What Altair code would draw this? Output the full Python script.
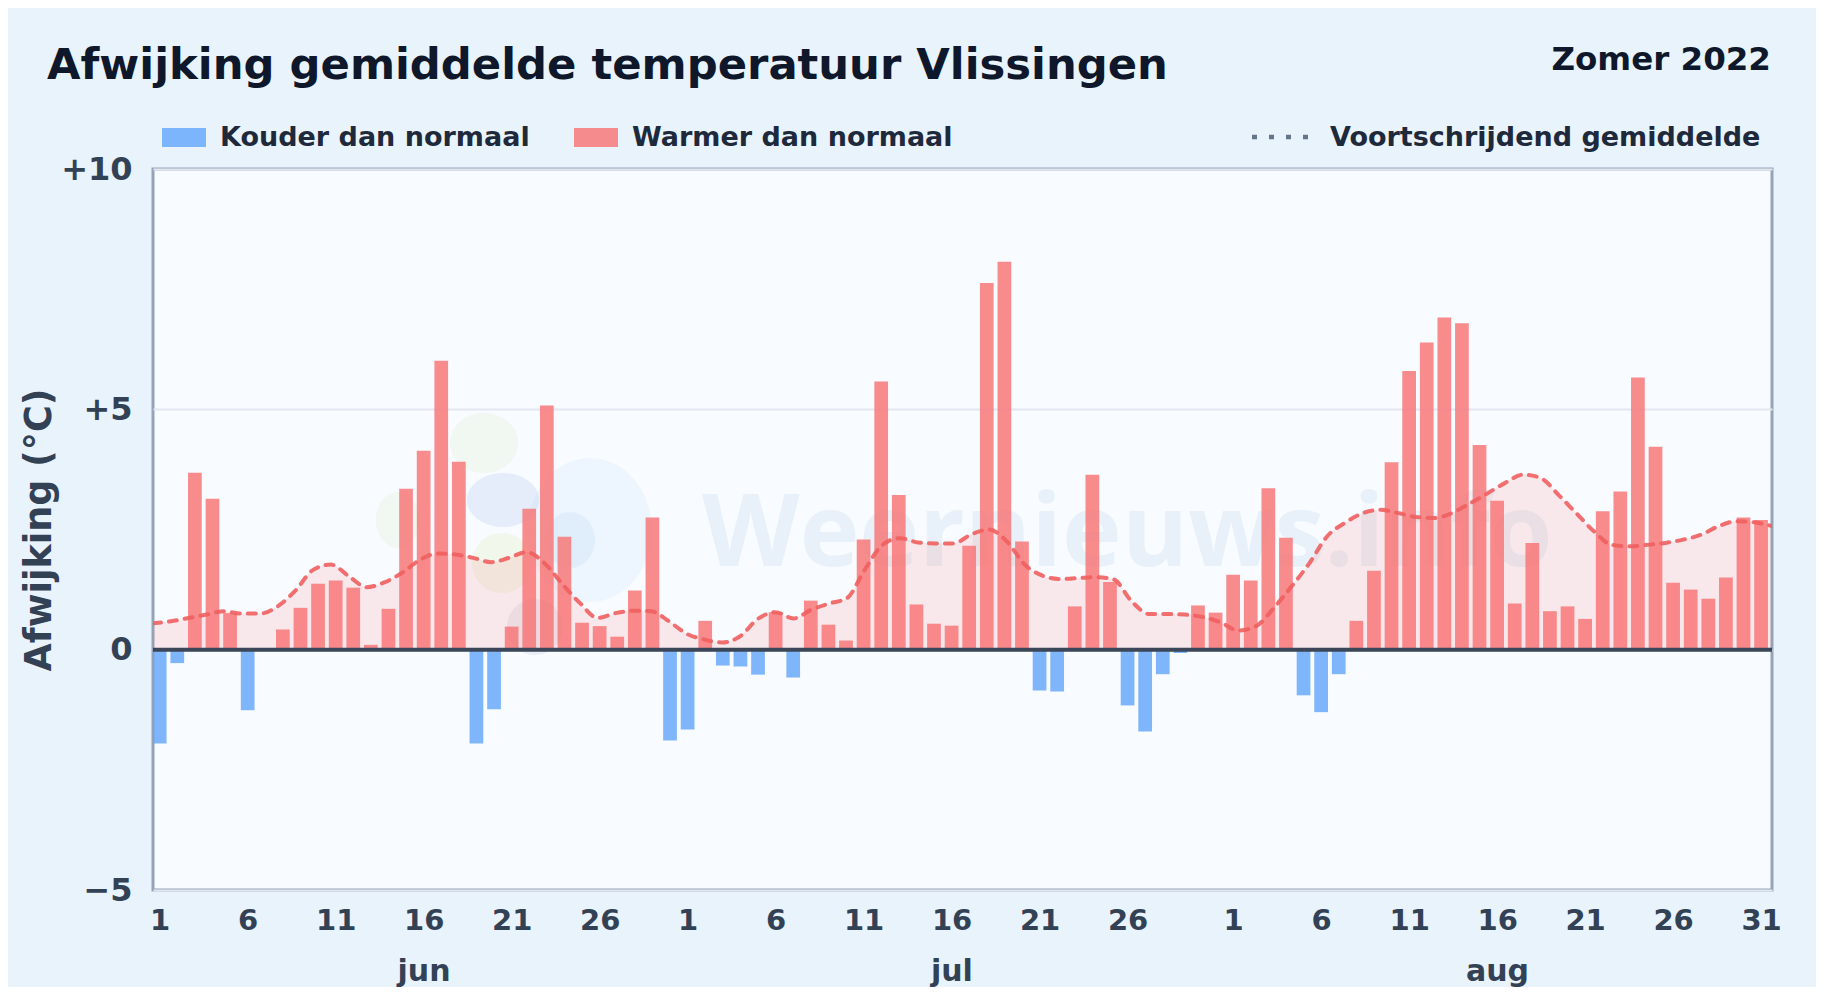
import altair as alt
import pandas as pd

# Daily deviation (deg C), 1 June - 31 August 2022
jun = [-1.95, -0.28, 3.68, 3.14, 0.76, -1.26, 0.0, 0.42, 0.87, 1.37, 1.44, 1.29, 0.10, 0.85, 3.35,
       4.14, 6.01, 3.91, -1.95, -1.24, 0.48, 2.93, 5.08, 2.35, 0.56, 0.49, 0.27, 1.23, 2.75, -1.89]
jul = [-1.66, 0.60, -0.33, -0.35, -0.52, 0.78, -0.58, 1.02, 0.52, 0.19, 2.29, 5.58, 3.22, 0.94, 0.54,
       0.50, 2.16, 7.63, 8.07, 2.25, -0.85, -0.87, 0.90, 3.64, 1.41, -1.16, -1.70, -0.51, -0.07, 0.92, 0.77]
aug = [1.56, 1.44, 3.36, 2.33, -0.95, -1.30, -0.51, 0.60, 1.64, 3.90, 5.80, 6.39, 6.91, 6.79, 4.26,
       3.10, 0.96, 2.22, 0.80, 0.90, 0.64, 2.88, 3.29, 5.66, 4.22, 1.39, 1.25, 1.06, 1.50, 2.75, 2.70]
# Moving average
moving_avg = [0.55, 0.59, 0.66, 0.73, 0.80, 0.75, 0.75, 0.90, 1.23, 1.66, 1.77, 1.53, 1.30, 1.40, 1.60, 1.87,
              2.00, 1.98, 1.91, 1.82, 1.91, 2.03, 1.80, 1.37, 0.97, 0.66, 0.76, 0.81, 0.80, 0.59, 0.33, 0.21,
              0.15, 0.28, 0.64, 0.78, 0.65, 0.83, 0.96, 1.07, 1.66, 2.18, 2.32, 2.23, 2.21, 2.21, 2.40, 2.50,
              2.25, 1.77, 1.54, 1.47, 1.49, 1.51, 1.46, 1.01, 0.74, 0.74, 0.73, 0.68, 0.57, 0.40, 0.49, 0.87,
              1.32, 1.80, 2.36, 2.64, 2.84, 2.91, 2.84, 2.76, 2.74, 2.84, 3.04, 3.25, 3.47, 3.64, 3.57, 3.22,
              2.84, 2.46, 2.18, 2.15, 2.18, 2.22, 2.29, 2.39, 2.57, 2.67, 2.65, 2.57]
tick_days = [0, 5, 10, 15, 20, 25, 30, 35, 40, 45, 50, 55, 61, 66, 71, 76, 81, 86, 91]
months = ["jun", "jul", "aug"]
month_pos = [15.4, 45.4, 76.4]
y_ticks = [-5, 0, 5, 10]
series_names = ["Kouder dan normaal", "Warmer dan normaal"]

FONT = "DejaVu Sans"
W, H = 1619, 721
OFF = 0.38
HALF = 0.39

vals = jun + jul + aug
bars = pd.DataFrame({"i": range(len(vals)), "v": vals})
bars = bars[bars.v != 0]
bars["x0"] = bars.i + OFF - HALF
bars["x1"] = bars.i + OFF + HALF
bars["nul"] = 0
bars["soort"] = [series_names[0] if v < 0 else series_names[1] for v in bars.v]
ma = pd.DataFrame({"i": range(len(moving_avg)), "m": moving_avg})
ma["xp"] = ma.i * 92 / 91
ma["nul"] = 0

xs = alt.Scale(domain=[0, 92], nice=False, zero=False)
ys = alt.Scale(domain=[-5, 10], nice=False)
one = pd.DataFrame({"a": [0]})

x_axis = alt.Axis(
    values=[d + OFF for d in tick_days], title=None, grid=False, ticks=False, domain=False,
    labelExpr="round(datum.value)<30 ? round(datum.value)+1 : round(datum.value)<61 ? round(datum.value)-29 : round(datum.value)-60",
    labelFont=FONT, labelFontWeight="bold", labelFontSize=29, labelColor="#334155",
    labelPadding=16, labelOverlap=False, labelFlush=False, labelBound=False)
y_axis = alt.Axis(
    values=y_ticks, title="Afwijking (°C)", grid=True, gridColor="#e2e8f0", gridWidth=2, ticks=False, domain=False,
    labelExpr="datum.value>0 ? '+'+datum.value : datum.value<0 ? '−'+abs(datum.value) : '0'",
    labelFont=FONT, labelFontWeight="bold", labelFontSize=32, labelColor="#334155", labelPadding=21,
    titleFont=FONT, titleFontWeight="bold", titleFontSize=36.5, titleColor="#334155",
    titleX=-103, titleY=H / 2, titleBaseline="alphabetic", titleAngle=270, titleAnchor="middle")


def label(text, x, y, size, color, align="left", baseline="alphabetic", weight="bold", font=FONT, **kw):
    return alt.Chart(one).mark_text(text=text, font=font, fontWeight=weight, fontSize=size, color=color,
                                    align=align, baseline=baseline, **kw).encode(x=alt.value(x), y=alt.value(y))


def blob(x, y, rx, ry, color, op):
    r = max(rx, ry)
    a, b = rx / r, ry / r
    path = f"M{-a},0A{a},{b},0,1,1,{a},0A{a},{b},0,1,1,{-a},0Z"
    return alt.Chart(one).mark_point(filled=True, shape=path, size=(2 * r) ** 2, color=color,
                                     opacity=op, strokeWidth=0).encode(x=alt.value(x - 153), y=alt.value(y - 169))


watermark = [
    blob(590, 530, 62, 72, "#bfe3fb", 0.18),
    blob(484, 443, 34, 30, "#dcedc8", 0.26),
    blob(398, 520, 22, 28, "#dcedc8", 0.26),
    blob(503, 500, 36, 27, "#94b8e0", 0.20),
    blob(570, 540, 25, 28, "#94b8e0", 0.14),
    blob(502, 563, 30, 30, "#e6eec0", 0.30),
    blob(535, 627, 28, 28, "#94a3b8", 0.14),
    label("Weernieuws.info", 702 - 153, 566 - 169, 101, "#62a1cd", font="Open Sans", opacity=0.10),
]

area = alt.Chart(ma).mark_area(interpolate="monotone", color="#f87171", opacity=0.14, clip=True).encode(
    x=alt.X("xp:Q", scale=xs, axis=x_axis),
    y=alt.Y("m:Q", scale=ys, axis=y_axis),
    y2="nul:Q")
bar = alt.Chart(bars).mark_bar(opacity=0.8, clip=True, cornerRadius=0).encode(
    x=alt.X("x0:Q", scale=xs, axis=x_axis), x2="x1:Q",
    y=alt.Y("v:Q", scale=ys, axis=y_axis), y2="nul:Q",
    color=alt.Color("soort:N", scale=alt.Scale(domain=series_names, range=["#60a5fa", "#f87171"]),
                    legend=alt.Legend(orient="none", legendX=9, legendY=-53.5, direction="horizontal", title=None,
                                      symbolType="M-1,-0.43H1V0.43H-1Z", symbolSize=1936, symbolStrokeWidth=0,
                                      symbolOpacity=0.8, columnPadding=44, labelOffset=14, labelFont=FONT,
                                      labelFontWeight="bold", labelFontSize=27, labelColor="#1e293b",
                                      labelLimit=500, padding=0)))
line = alt.Chart(ma).mark_line(interpolate="monotone", color="#ef5f5f", opacity=0.9, strokeWidth=4,
                               strokeDash=[8, 8], strokeCap="round", clip=True).encode(
    x=alt.X("xp:Q", scale=xs, axis=x_axis), y=alt.Y("m:Q", scale=ys, axis=y_axis))
zero = alt.Chart(pd.DataFrame({"z": [0]})).mark_rule(color="#3b4658", strokeWidth=4).encode(
    y=alt.Y("z:Q", scale=ys, axis=y_axis), x=alt.value(0), x2=alt.value(W))
month_text = alt.Chart(pd.DataFrame({"m": months, "p": month_pos})).mark_text(
    font=FONT, fontWeight="bold", fontSize=30, color="#334155", baseline="middle").encode(
    x=alt.X("p:Q", scale=xs, axis=x_axis), y=alt.value(972 - 169), text="m:N")
dash_key = alt.Chart(one).mark_rule(color="#64748b", strokeWidth=4.5, strokeDash=[5, 12]).encode(
    x=alt.value(1252 - 153), x2=alt.value(1309 - 153), y=alt.value(137 - 169))

chart = alt.layer(
    *watermark, area, bar, line, zero, month_text, dash_key,
    label("Afwijking gemiddelde temperatuur Vlissingen", 47 - 153, 79 - 169, 43.3, "#0f172a"),
    label("Zomer 2022", 1771 - 153, 70 - 169, 32.5, "#0f172a", align="right"),
    label("Voortschrijdend gemiddelde", 1330 - 153, 146 - 169, 27, "#1e293b"),
).properties(
    width=W, height=H,
    background="#e8f3fc",
    padding={"left": 145, "top": 161, "right": 44, "bottom": 97},
    autosize=alt.AutoSizeParams(type="none"),
).configure_view(fill="#f8fbff", stroke="#94a3b8", strokeWidth=3)

chart.save("out.html", embed_options={"renderer": "svg", "actions": False})
